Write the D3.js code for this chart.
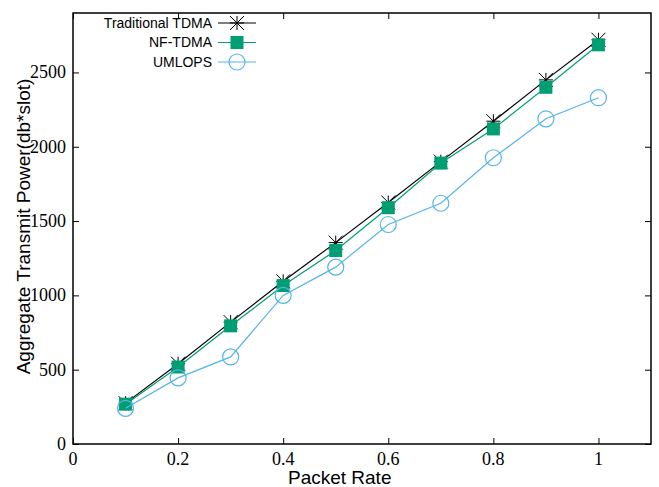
<!DOCTYPE html>
<html>
<head>
<meta charset="utf-8">
<script src="https://cdn.jsdelivr.net/npm/d3@7"></script>
<style>
  body { margin: 0; background: #fff; }
  svg { display: block; }
</style>
</head>
<body>
<div id="chart"></div>
<script>
// 数据
const packetRates = [0.1, 0.2, 0.3, 0.4, 0.5, 0.6, 0.7, 0.8, 0.9, 1.0];
const traditionalTdma = [275, 540, 820, 1095, 1355, 1625, 1900, 2172, 2450, 2720];
const nfTdma = [268, 518, 795, 1066, 1302, 1590, 1890, 2120, 2400, 2686];
const umlops = [240, 445, 586, 1000, 1190, 1477, 1620, 1926, 2188, 2330];
const xTicks = [0, 0.2, 0.4, 0.6, 0.8, 1];
const yTicks = [0, 500, 1000, 1500, 2000, 2500];

const series = [
    { name: "Traditional TDMA", values: traditionalTdma, color: "#000000", marker: "star" },
    { name: "NF-TDMA", values: nfTdma, color: "#009e73", marker: "square" },
    { name: "UMLOPS", values: umlops, color: "#56b4e9", marker: "circle" }
];

const width = 659, height = 487;
const margin = { top: 13, right: 8, bottom: 43, left: 73 };
const innerW = width - margin.left - margin.right;
const innerH = height - margin.top - margin.bottom;

const svg = d3.select("#chart").append("svg")
    .attr("width", width)
    .attr("height", height);

const g = svg.append("g")
    .attr("transform", `translate(${margin.left},${margin.top})`);

const x = d3.scaleLinear().domain([0, 1.1]).range([0, innerW]);
const y = d3.scaleLinear().domain([0, 2900]).range([innerH, 0]);

const labelFont = '"Liberation Sans"';

// 坐标轴（刻度向内，标签单独绘制）
g.append("g")
    .attr("transform", `translate(0,${innerH})`)
    .call(d3.axisBottom(x).tickValues(xTicks).tickSize(-6).tickFormat(""));
g.append("g")
    .call(d3.axisTop(x).tickValues(xTicks).tickSize(-6).tickFormat(""));
g.append("g")
    .call(d3.axisLeft(y).tickValues(yTicks).tickSize(-6).tickFormat(""));
g.append("g")
    .attr("transform", `translate(${innerW},0)`)
    .call(d3.axisRight(y).tickValues(yTicks).tickSize(-6).tickFormat(""));
g.selectAll(".domain").remove();
g.selectAll(".tick line").attr("stroke", "#000");

// 刻度标签（衬线体）
g.selectAll(".xlab")
    .data(xTicks)
    .enter()
    .append("text")
    .attr("class", "xlab")
    .attr("x", d => x(d))
    .attr("y", innerH + 21)
    .attr("text-anchor", "middle")
    .attr("font-family", "Liberation Serif")
    .style("font-family", '"Liberation Serif"')
    .style("font-size", "18px")
    .text(d => d3.format("")(d));

g.selectAll(".ylab")
    .data(yTicks)
    .enter()
    .append("text")
    .attr("class", "ylab")
    .attr("x", -7)
    .attr("y", d => y(d) + 6)
    .attr("text-anchor", "end")
    .attr("font-family", "Liberation Serif")
    .style("font-family", '"Liberation Serif"')
    .style("font-size", "18px")
    .text(d => d);

// 边框
g.append("rect")
    .attr("width", innerW)
    .attr("height", innerH)
    .attr("fill", "none")
    .attr("stroke", "#000")
    .attr("stroke-width", 1.5);

// 轴标题
svg.append("text")
    .attr("x", margin.left + x(0.5) + 4)
    .attr("y", 484)
    .attr("text-anchor", "middle")
    .style("font-family", labelFont)
    .style("font-size", "19px")
    .text("Packet Rate");

svg.append("text")
    .attr("transform", `translate(30,${margin.top + innerH / 2 - 2}) rotate(-90)`)
    .attr("text-anchor", "middle")
    .style("font-family", labelFont)
    .style("font-size", "19px")
    .text("Aggregate Transmit Power(db*slot)");

// 标记
function drawMarker(sel, type, color) {
    if (type === "star") {
        const s = 7;
        sel.append("path")
            .attr("d", `M${-s},0H${s}M0,${-s}V${s}M${-s},${-s}L${s},${s}M${-s},${s}L${s},${-s}`)
            .attr("stroke", color)
            .attr("stroke-width", 1)
            .attr("fill", "none");
    } else if (type === "square") {
        sel.append("rect")
            .attr("x", -6.5).attr("y", -6.5)
            .attr("width", 13).attr("height", 13)
            .attr("fill", color);
    } else {
        sel.append("circle")
            .attr("r", 8)
            .attr("fill", "none")
            .attr("stroke", color)
            .attr("stroke-width", 1.2);
    }
}

const line = d3.line().x(d => x(d[0])).y(d => y(d[1]));

series.forEach(s => {
    const pts = packetRates.map((r, i) => [r, s.values[i]]);
    g.append("path")
        .datum(pts)
        .attr("d", line)
        .attr("fill", "none")
        .attr("stroke", s.color)
        .attr("stroke-width", 1.2);
    pts.forEach(p => {
        const m = g.append("g").attr("transform", `translate(${x(p[0])},${y(p[1])})`);
        drawMarker(m, s.marker, s.color);
    });
});

// 图例
const legend = svg.append("g");
series.forEach((s, i) => {
    const ly = 23 + i * 19.5;
    legend.append("text")
        .attr("x", 212)
        .attr("y", ly)
        .attr("dy", "0.35em")
        .attr("text-anchor", "end")
        .style("font-family", labelFont)
        .style("font-size", "14px")
        .text(s.name);
    legend.append("line")
        .attr("x1", 218).attr("x2", 256)
        .attr("y1", ly).attr("y2", ly)
        .attr("stroke", s.color)
        .attr("stroke-width", 1.2);
    const m = legend.append("g").attr("transform", `translate(237,${ly})`);
    drawMarker(m, s.marker, s.color);
});
</script>
</body>
</html>
